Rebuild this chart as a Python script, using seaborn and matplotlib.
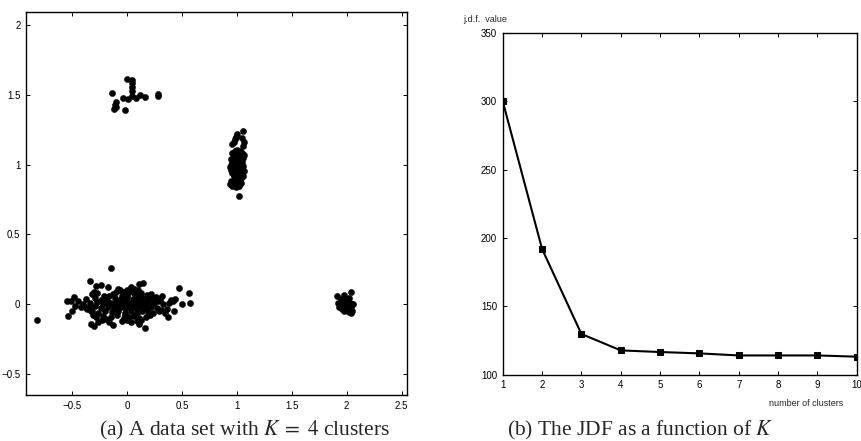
import matplotlib
matplotlib.use("Agg")
import matplotlib.pyplot as plt
import seaborn as sns
import pandas as pd

# ---------------- data ----------------
# cluster near (0, 0)
cluster_a = [
    (-0.82, -0.11), (-0.15, 0.26),
    (-0.34, 0.165), (-0.24, 0.14), (-0.28, 0.13), (-0.17, 0.125), (-0.30, 0.085),
    (-0.08, 0.11), (-0.10, 0.09), (-0.06, 0.10),
    (0.15, 0.15), (0.11, 0.145), (0.035, 0.12), (0.47, 0.115), (0.56, 0.078),
    (0.575, 0.012), (0.50, 0.003), (0.44, 0.04), (0.40, 0.03), (0.42, 0.02),
    (0.32, 0.06), (0.30, 0.03),
    (-0.55, 0.025), (-0.51, 0.02), (-0.48, 0.05), (-0.45, 0.02), (-0.47, -0.01),
    (-0.42, -0.02), (-0.50, -0.05), (-0.54, -0.085),
    (-0.38, -0.02), (-0.36, -0.035), (-0.33, -0.05), (-0.31, -0.08), (-0.33, -0.14),
    (-0.30, -0.155), (-0.26, -0.13), (-0.19, -0.105), (-0.16, -0.13), (-0.13, -0.15),
    (0.36, -0.035), (0.35, -0.065), (0.43, -0.045), (0.37, -0.095), (0.16, -0.17),
    (0.11, -0.14),
    (-0.32, 0.07), (-0.27, 0.08), (-0.21, 0.06), (-0.13, 0.075), (-0.04, 0.09),
    (0.02, 0.085), (0.07, 0.07), (0.13, 0.08), (0.18, 0.065), (0.22, 0.07), (0.26, 0.05),
    (-0.37, 0.035), (-0.29, 0.045), (-0.24, 0.03), (-0.18, 0.04), (-0.11, 0.045),
    (-0.06, 0.03), (0.00, 0.05), (0.05, 0.04), (0.09, 0.035), (0.14, 0.045),
    (0.19, 0.03), (0.24, 0.04), (0.28, 0.02),
    (-0.40, 0.005), (-0.34, 0.01), (-0.27, 0.015), (-0.22, 0.0), (-0.15, 0.01),
    (-0.09, 0.015), (-0.03, 0.0), (0.02, 0.01), (0.06, 0.02), (0.10, 0.005),
    (0.15, 0.015), (0.20, 0.0), (0.25, 0.01), (0.33, 0.0), (0.38, 0.01),
    (-0.35, -0.02), (-0.29, -0.015), (-0.24, -0.03), (-0.17, -0.02), (-0.12, -0.025),
    (-0.05, -0.02), (-0.01, -0.03), (0.03, -0.015), (0.08, -0.025), (0.12, -0.02),
    (0.17, -0.03), (0.22, -0.02), (0.27, -0.025), (0.31, -0.04),
    (-0.32, -0.05), (-0.26, -0.06), (-0.20, -0.045), (-0.14, -0.055), (-0.08, -0.05),
    (-0.02, -0.06), (0.04, -0.05), (0.09, -0.06), (0.14, -0.045), (0.19, -0.055),
    (0.24, -0.065), (0.29, -0.05),
    (-0.28, -0.09), (-0.22, -0.085), (-0.15, -0.095), (-0.09, -0.08), (-0.03, -0.10),
    (0.02, -0.09), (0.06, -0.085), (0.11, -0.10), (0.17, -0.09), (0.21, -0.08),
    (-0.23, -0.115), (-0.05, -0.12), (0.00, -0.115), (0.04, -0.125), (0.09, -0.12),
    (0.13, -0.11),
    (-0.01, 0.03), (0.01, -0.005), (0.04, 0.0), (-0.04, 0.01), (0.07, -0.01),
    (-0.07, -0.01), (0.11, 0.03), (0.16, -0.005), (-0.12, 0.0), (-0.19, 0.015),
    (0.0, 0.065), (0.05, 0.09), (-0.02, -0.075), (0.08, 0.055), (0.12, 0.06),
    (0.19, 0.05), (-0.16, 0.06), (0.10, 0.10), (0.0, 0.10), (0.06, 0.11), (-0.045, 0.06),
]

# cluster near (0, 1.5)
cluster_b = [
    (0.003, 1.613), (0.043, 1.606), (0.046, 1.587), (0.049, 1.553), (0.049, 1.529),
    (-0.137, 1.510), (-0.037, 1.474), (0.012, 1.467), (0.049, 1.491), (0.079, 1.479),
    (0.116, 1.496), (0.168, 1.486), (0.281, 1.503), (0.284, 1.489), (-0.098, 1.448),
    (-0.113, 1.424), (-0.104, 1.410), (-0.119, 1.395), (-0.015, 1.391),
]

# cluster near (1, 1)
cluster_c = [
    (1.00, 1.22), (0.99, 1.20), (0.98, 1.18), (0.97, 1.16), (0.96, 1.145),
    (1.06, 1.24), (1.05, 1.19), (1.07, 1.16), (1.06, 1.13),
    (0.98, 1.10), (1.00, 1.105), (1.03, 1.095),
    (0.96, 1.08), (0.99, 1.075), (1.02, 1.085), (1.05, 1.08), (1.07, 1.07),
    (0.97, 1.06), (1.00, 1.055), (1.03, 1.065), (1.06, 1.05),
    (0.95, 1.04), (0.98, 1.035), (1.01, 1.045), (1.04, 1.04),
    (0.96, 1.02), (0.99, 1.025), (1.02, 1.015), (1.05, 1.02),
    (0.95, 1.00), (0.98, 0.995), (1.00, 1.005), (1.03, 1.00), (1.06, 0.99),
    (0.94, 0.98), (0.97, 0.975), (1.00, 0.985), (1.03, 0.98),
    (0.95, 0.96), (0.98, 0.955), (1.01, 0.965), (1.04, 0.96), (1.07, 0.955),
    (0.96, 0.94), (0.99, 0.935), (1.02, 0.945), (1.05, 0.94),
    (0.97, 0.92), (1.00, 0.915), (1.03, 0.925), (1.06, 0.92),
    (0.98, 0.90), (1.01, 0.895), (1.04, 0.905),
    (0.95, 0.88), (0.98, 0.875), (1.00, 0.885), (1.03, 0.88),
    (0.94, 0.86), (0.97, 0.865), (1.00, 0.855), (1.02, 0.86), (1.04, 0.87),
    (0.96, 0.845), (0.99, 0.84), (1.02, 0.845),
    (1.02, 0.777),
]

# cluster near (2, 0)
cluster_d = [
    (1.91, 0.057), (1.92, 0.01), (1.98, 0.067), (2.04, 0.086), (1.95, 0.04),
    (1.97, 0.03), (2.00, 0.04), (2.02, 0.045), (1.94, 0.0), (1.96, 0.01),
    (1.99, 0.015), (2.01, 0.02), (2.03, 0.01), (2.05, 0.005), (1.95, -0.02),
    (1.97, -0.01), (2.00, -0.005), (2.02, -0.01), (2.04, -0.02), (2.06, 0.0),
    (1.96, -0.035), (1.99, -0.03), (2.01, -0.04), (2.03, -0.04), (2.05, -0.05),
    (1.98, -0.05), (2.02, -0.055), (2.04, -0.06), (1.93, -0.02), (2.00, -0.02),
    (1.98, 0.0), (2.01, 0.0),
]

n_clusters = [1, 2, 3, 4, 5, 6, 7, 8, 9, 10]
jdf_value = [300, 192, 129.8, 117.8, 116.6, 115.6, 114.1, 114.1, 114.1, 113.2]

x_ticks_a = [-0.5, 0, 0.5, 1, 1.5, 2, 2.5]
x_ticklabels_a = ["\u22120.5", "0", "0.5", "1", "1.5", "2", "2.5"]
y_ticks_a = [-0.5, 0, 0.5, 1, 1.5, 2]
y_ticklabels_a = ["\u22120.5", "0", "0.5", "1", "1.5", "2"]
y_ticks_b = [100, 150, 200, 250, 300, 350]

# ---------------- style ----------------
sns.set_style("ticks")
plt.rcParams["font.family"] = ["Liberation Sans Narrow", "Liberation Sans", "DejaVu Sans"]
plt.rcParams["mathtext.fontset"] = "stix"

fig = plt.figure(figsize=(8.61, 4.41), dpi=100)
ax1 = fig.add_axes([0.0302, 0.1043, 0.4425, 0.8678])
ax2 = fig.add_axes([0.5839, 0.1503, 0.4111, 0.7749])

rows = []
for name, pts in [("a", cluster_a), ("b", cluster_b), ("c", cluster_c), ("d", cluster_d)]:
    for x, y in pts:
        rows.append({"x": x, "y": y, "cluster": name})
df = pd.DataFrame(rows)

sns.scatterplot(data=df, x="x", y="y", ax=ax1, color="black", s=20,
                edgecolor="black", linewidth=0.3, legend=False)
ax1.set_xlim(-0.92, 2.55)
ax1.set_ylim(-0.65, 2.09)
ax1.set_xticks(x_ticks_a)
ax1.set_xticklabels(x_ticklabels_a)
ax1.set_yticks(y_ticks_a)
ax1.set_yticklabels(y_ticklabels_a)
ax1.set_xlabel("")
ax1.set_ylabel("")

df2 = pd.DataFrame({"k": n_clusters, "jdf": jdf_value})
sns.lineplot(data=df2, x="k", y="jdf", ax=ax2, color="black", linewidth=1.5,
             marker="s", markersize=4.5, markeredgecolor="black")
ax2.set_xlim(1, 10)
ax2.set_ylim(100, 350)
ax2.set_xticks(n_clusters)
ax2.set_yticks(y_ticks_b)
ax2.set_xlabel("")
ax2.set_ylabel("")

for ax in (ax1, ax2):
    for sp in ax.spines.values():
        sp.set_visible(True)
        sp.set_color("black")
        sp.set_linewidth(1.0)
    ax.tick_params(direction="in", top=True, right=True, length=3, width=0.7,
                   labelsize=7, colors="black", pad=4)

fig.text(463 / 861, 1 - 19 / 441, "j.d.f.  value", fontsize=6.5, ha="left", va="center")
fig.text(806 / 861, 1 - 404 / 441, "number of clusters", fontsize=6.5, ha="center", va="center")

cap_font = ["Liberation Serif", "DejaVu Serif"]
fig.text(245 / 861, 1 - 430 / 441, r"(a) A data set with $K\;=\;4$ clusters",
         fontsize=15.5, ha="center", va="center", family=cap_font)
fig.text(640 / 861, 1 - 430 / 441, r"(b) The JDF as a function of $K$",
         fontsize=15.5, ha="center", va="center", family=cap_font)

fig.savefig("out.png", dpi=100)
